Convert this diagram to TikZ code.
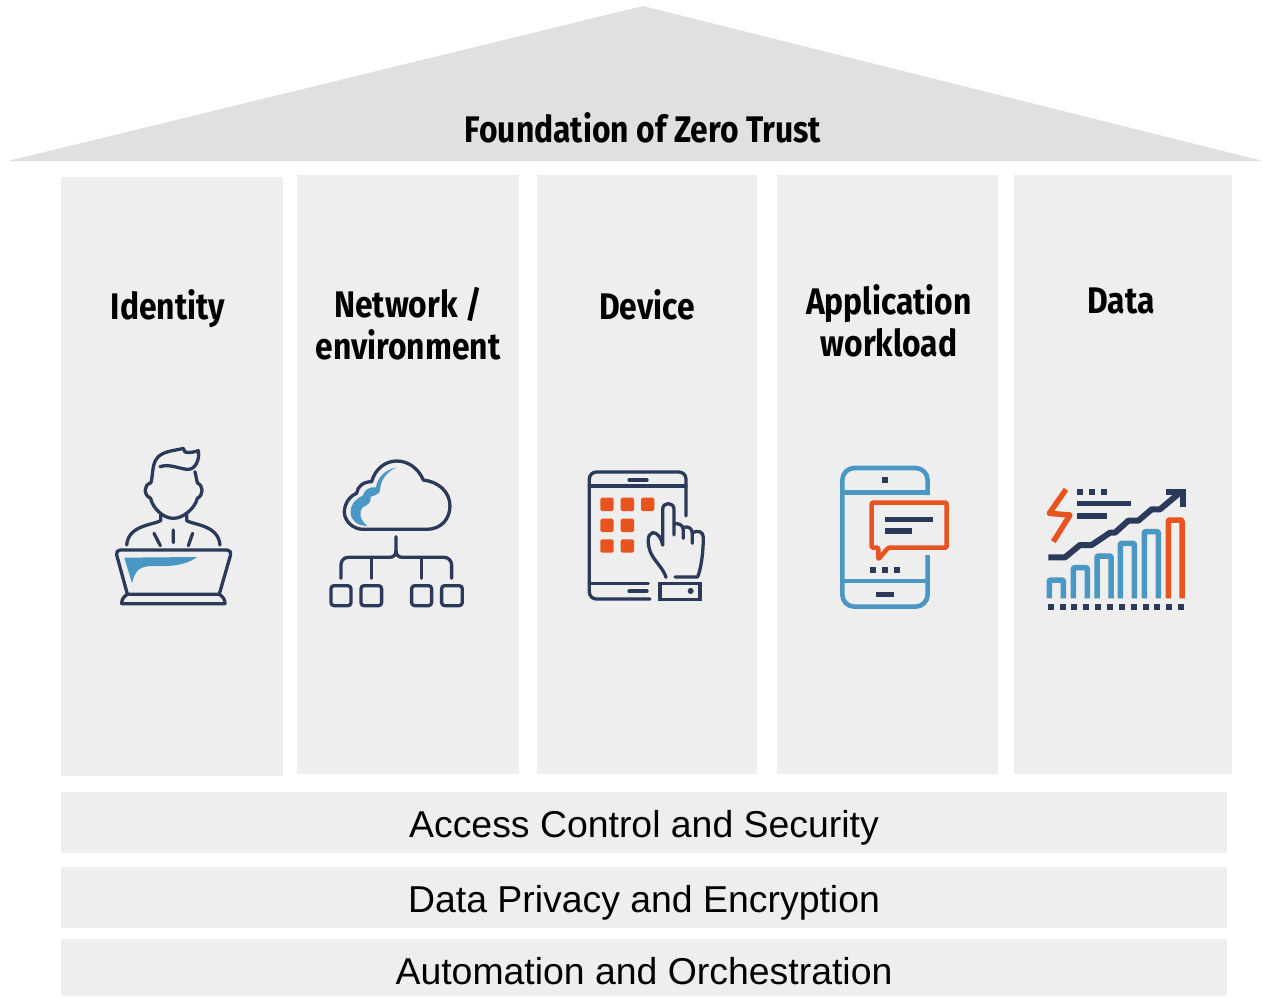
\documentclass[tikz,border=0pt]{standalone}
\usepackage{fontspec}
\setmainfont{Liberation Sans}
\newfontfamily\headfont[FakeStretch=0.86]{Fira Sans Bold}
\definecolor{panelgray}{HTML}{EEEEEE}
\definecolor{roofgray}{HTML}{E0E0E0}
\definecolor{inkdark}{HTML}{2B3A5A}
\definecolor{iconblue}{HTML}{4A97C4}
\definecolor{iconorange}{HTML}{E8531F}
\tikzset{
  panel/.style={fill=panelgray,draw=none,inner sep=0pt,outer sep=0pt},
  bandtext/.style={font=\fontsize{37.4}{42}\selectfont,text=black,inner sep=0pt},
  headtext/.style={font=\headfont\fontsize{37}{42}\selectfont,text=black,align=center,inner sep=0pt},
  ink/.style={draw=inkdark,line width=3.3pt,line cap=round,line join=round,fill=none},
  blueline/.style={draw=iconblue,line width=4.6pt,line cap=butt,line join=round,fill=none},
  orangeline/.style={draw=iconorange,line width=4.5pt,line cap=butt,line join=round,fill=none},
  zoomA/.style={shift={(90,430)},x=0.3333pt,y=-0.3333pt},
  zoomB/.style={shift={(570,450)},x=0.3333pt,y=-0.3333pt},
  zoomC/.style={shift={(1030,470)},x=0.3333pt,y=-0.3333pt},
}
\begin{document}
\begin{tikzpicture}[x=1pt,y=-1pt]
\useasboundingbox (0,0) rectangle (1263,997);
% roof
\fill[roofgray,rounded corners=1pt] (8,161) -- (643,6) -- (1263,161) -- cycle;
\node[headtext] (roof) at (643,128) {Foundation of Zero Trust};
% panels
\node[panel,minimum width=222pt,minimum height=599pt] (p1) at (172,476.5) {};
\node[panel,minimum width=222pt,minimum height=599pt] (p2) at (408,474.5) {};
\node[panel,minimum width=220pt,minimum height=599pt] (p3) at (647,474.5) {};
\node[panel,minimum width=221pt,minimum height=599pt] (p4) at (887.5,474.5) {};
\node[panel,minimum width=218pt,minimum height=599pt] (p5) at (1123,474.5) {};
\node[headtext] (t1) at (168,309) {Identity};
\node[headtext] (t2) at (408,324) {Network /\\environment};
\node[headtext] (t3) at (647,305) {Device};
\node[headtext] (t4) at (889,321) {Application\\workload};
\node[headtext] (t5) at (1121,301) {Data};
% bands
\node[panel,minimum width=1166pt,minimum height=61pt] (b1) at (644,822.5) {};
\node[panel,minimum width=1166pt,minimum height=61pt] (b2) at (644,897.5) {};
\node[panel,minimum width=1166pt,minimum height=57pt] (b3) at (644,967.5) {};
\node[bandtext] (bt1) at (644,828) {Access Control and Security};
\node[bandtext] (bt2) at (644,903) {Data Privacy and Encryption};
\node[bandtext] (bt3) at (644,971) {Automation and Orchestration};
% person
\begin{scope}[zoomA]
\fill[iconblue] (103,383) -- (322,381) .. controls (285,408) and (235,410) .. (190,408) .. controls (150,408) and (135,420) .. (126,460) -- cycle;
\draw[ink] (183,158) .. controls (190,130) and (185,100) .. (205,80) .. controls (225,62) and (255,62) .. (280,55) -- (285,66) .. controls (300,70) and (315,65) .. (325,62) .. controls (330,90) and (315,118) .. (295,118) .. controls (270,118) and (240,100) .. (210,110);
\draw[ink] (315,125) -- (322,158) .. controls (340,165) and (342,195) .. (322,205) .. controls (315,235) and (280,265) .. (250,265) .. controls (220,265) and (188,235) .. (182,205) .. controls (160,195) and (160,165) .. (183,158);
\draw[ink] (212,255) -- (212,272) .. controls (190,285) and (115,285) .. (110,345);
\draw[ink] (290,255) -- (290,272) .. controls (312,285) and (385,285) .. (390,345);
\draw[ink] (192,310) -- (211,347) (250,300) -- (250,338) (308,310) -- (295,347);
\draw[ink,rounded corners=5pt] (112,492) -- (76,360) -- (426,360) -- (388,492);
\draw[ink] (112,493) -- (388,493) .. controls (400,500) and (405,510) .. (405,521) -- (95,521) .. controls (95,510) and (100,500) .. (112,493);
% cloud
\fill[iconblue] (920,112) .. controls (875,122) and (862,150) .. (858,172) .. controls (835,170) and (825,180) .. (818,197) .. controls (790,210) and (780,230) .. (782,250) .. controls (785,275) and (805,287) .. (832,288) .. controls (810,270) and (805,245) .. (818,232) .. controls (835,225) and (845,215) .. (842,200) .. controls (860,195) and (870,190) .. (870,180) .. controls (872,150) and (890,125) .. (920,112) -- cycle;
\draw[ink] (820,298) -- (1010,298) .. controls (1055,298) and (1080,265) .. (1080,228) .. controls (1080,185) and (1045,155) .. (1000,150) .. controls (985,115) and (955,93) .. (920,93) .. controls (885,93) and (855,118) .. (845,155) .. controls (820,155) and (802,170) .. (800,190) .. controls (775,200) and (763,225) .. (763,248) .. controls (765,275) and (790,298) .. (820,298);
\draw[ink] (918,320) -- (918,362) .. controls (918,375) and (910,382) .. (900,382) -- (775,382) .. controls (762,382) and (753,392) .. (753,405) -- (753,445);
\draw[ink] (918,362) .. controls (918,375) and (926,382) .. (936,382) -- (1062,382) .. controls (1075,382) and (1085,392) .. (1085,405) -- (1085,445);
\draw[ink] (845,445) -- (845,385) (995,385) -- (995,445);
\draw[ink,rounded corners=3pt] (723,467) rectangle (783,527);
\draw[ink,rounded corners=3pt] (813,467) rectangle (875,527);
\draw[ink,rounded corners=3pt] (965,467) rectangle (1025,527);
\draw[ink,rounded corners=3pt] (1055,467) rectangle (1117,527);
\end{scope}
% tablet and phone
\begin{scope}[zoomB]
\draw[ink,rounded corners=7pt] (348,198) -- (348,66) -- (58,66) -- (58,447) -- (240,447);
\draw[ink] (58,108) -- (348,108) (177,90) -- (231,90) (58,400) -- (235,400) (177,423) -- (231,423);
\foreach \gx/\gy in {91/143,152/143,213/143,91/206,152/206,91/268,152/268}
  \fill[iconorange,rounded corners=1.5pt] (\gx,\gy) rectangle ++(40,40);
\draw[ink] (278,285) -- (278,178) .. controls (278,155) and (312,155) .. (312,178) -- (312,255);
\draw[ink] (312,222) .. controls (325,218) and (340,225) .. (340,240) -- (340,265);
\draw[ink] (340,232) .. controls (355,228) and (367,235) .. (367,250) -- (367,280);
\draw[ink] (367,248) .. controls (385,240) and (400,245) .. (400,262) .. controls (400,300) and (395,350) .. (383,381) -- (315,381);
\draw[ink] (278,285) .. controls (275,265) and (262,247) .. (248,248) .. controls (230,252) and (232,285) .. (243,310) .. controls (255,335) and (280,355) .. (288,382);
\draw[ink,line join=miter] (270,400) rectangle (390,448);
\fill[inkdark] (362,423) circle (9);
% phone
\draw[blueline,rounded corners=12pt] (1073,135) -- (1073,54) -- (817,54) -- (817,470) -- (1073,470) -- (1073,315);
\draw[blueline] (817,128) -- (1073,128) (817,393) -- (1073,393);
\fill[inkdark] (936,81) rectangle ++(18,18);
\fill[inkdark] (918,425) rectangle ++(54,15);
\foreach \gx in {900,936,973} \fill[inkdark] (\gx,351) rectangle ++(18,18);
\fill[inkdark] (945,200) rectangle (1088,216);
\fill[inkdark] (945,235) rectangle (1026,251);
\draw[orangeline,rounded corners=1pt] (905,158) -- (1130,158) -- (1130,293) -- (955,293) -- (925,328) -- (925,293) -- (905,293) -- cycle;
\end{scope}
% chart
\begin{scope}[zoomC]
\draw[orangeline,line width=5.5pt] (108,58) -- (58,130) -- (120,135) -- (70,215);
\foreach \gx in {142,178,214} \fill[inkdark] (\gx,57) rectangle ++(18,18);
\fill[inkdark] (140,92) rectangle (302,109);
\fill[inkdark] (140,128) rectangle (232,146);
\draw[draw=inkdark,line width=6pt,line join=round] (55,262) -- (105,262) -- (150,225) -- (185,225) -- (240,188) -- (255,188) -- (295,152) -- (325,152) -- (365,118) -- (390,118) -- (452,66);
\draw[draw=inkdark,line width=6pt,line join=miter] (408,65) -- (459,65) -- (459,110);
\foreach \gx/\gt in {58/330,130/293,201/258,271/220,343/185}
  \draw[blueline,line width=5.5pt,rounded corners=1pt] (\gx,385) -- (\gx,\gt) -- (\gx+42,\gt) -- (\gx+42,385);
\draw[orangeline,line width=5.5pt,rounded corners=1pt] (415,385) -- (415,150) -- (456,150) -- (456,385);
\foreach \gi in {0,...,11} \fill[inkdark] (53+\gi*35.6,403) rectangle ++(18,18);
\end{scope}
\end{tikzpicture}
\end{document}
